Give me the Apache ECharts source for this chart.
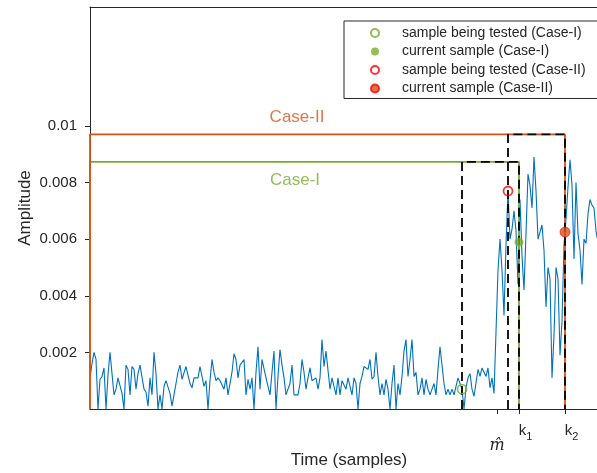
<!DOCTYPE html>
<html>
<head>
<meta charset="utf-8">
<script src="https://cdn.jsdelivr.net/npm/echarts@6/dist/echarts.min.js"></script>
<style>
  html, body { margin: 0; padding: 0; background: #fff; }
  #chart { width: 597px; height: 473px; }
</style>
</head>
<body>
<div id="chart"></div>
<script>
// received signal, one value per sample
const amplitude = [
  0.0011, 0.0016, 0.002, 0.00175, 0, 0.00105, 0.00115, 0.00145, 0, 0.0012,
  0.002, 0.002, 0.0005, 0.0007, 0.0011, 0.00105, 0.00055, 0, 0.00155, 0.0014,
  0.0005, 0.0015, 0.0014, 0.0007, 0.00125, 0.00155, 0.0015, 0.0007, 0.0006, 0.0001,
  0.0011, 0.0005, 0.002, 0.00125, 0, 0.0005, 0, 0.0008, 0.001, 0.00105,
  0.00055, 0.0001, 0.0005, 0.0009, 0.0013, 0.00155, 0.00105, 0.0011, 0.0015, 0.0015,
  0.0009, 0.00075, 0.0011, 0.00105, 0.0011, 0.0015, 0.0015, 0.0008, 0.001, 0,
  0.001, 0.00175, 0.0013, 0.001,
  0.0011, 0.001, 0.00105, 0.0007, 0.0011, 0.0005, 0.0005, 0.0013, 0.00195, 0.00175,
  0.0011, 0.00155, 0.0016, 0.00175, 0.0005, 0.00105, 0.0007, 0.0011, 0, 0.0013,
  0.0022, 0.0007, 0.00175, 0.00175, 0.0011, 0.0011, 0.0005, 0.0013, 0.00205, 0,
  0.00115, 0.0021, 0.00155, 0.0011, 0.0005, 0.0005, 0.0009, 0.00155, 0.0005, 0.0005,
  0.0005, 0.0009, 0.00175, 0.0013, 0.0007, 0.0011, 0.00145, 0.001, 0.001, 0.0011,
  0.0007, 0.0011, 0.00245, 0.0015, 0.00205, 0.002, 0.0007, 0.0011, 0.00105, 0.0005,
  0.0011, 0.0005, 0.001, 0.001,
  0.0007, 0.0011, 0.0008, 0.0005, 0.0011, 0.0009, 0, 0.0009, 0.00115, 0.0015,
  0.00155, 0.0014, 0.00175, 0.00105, 0.00115, 0.002, 0.00115, 0.0005, 0.0009, 0.0005,
  0.00105, 0.0007, 0, 0.0009, 0.00155, 0, 0.0009, 0.0005, 0.00115, 0.00205,
  0.00245, 0.00115, 0.00175, 0.00245, 0.00115, 0.0013, 0.0005, 0.0007, 0.0011, 0.0005,
  0.00105, 0.0007, 0.0005, 0.0005, 0.0009, 0.0005, 0.0014, 0.0022, 0.00155, 0.0009,
  0.0005, 0.0007, 0.0005, 0.0007, 0.0005, 0.0008, 0.0011, 0.00105, 0.0007, 0,
  0.00075, 0.0011, 0.00125,
  0.0007, 0.00045, 0.00045, 0.0014, 0.00115, 0.00145, 0.0014, 0.00115, 0.00145, 0.00075,
  0.0011, 0.00055, 0.0005, 0.0049, 0.006, 0.0049, 0.0033, 0.0058, 0.0077, 0.006,
  0.00635, 0.007, 0.0063, 0.0044, 0.0074, 0.0054, 0.0042, 0.0062, 0.0083, 0.0079,
  0.0071, 0.0089, 0.0077, 0.006, 0.006, 0.0065, 0.0056, 0.0036, 0.005, 0.0046,
  0.0011, 0.0026, 0.005, 0.0046, 0.0019, 0.0031, 0.0058, 0.0067, 0.00785, 0.0088,
  0.0079, 0.0053, 0.008, 0.0062, 0.0056, 0.0044, 0.006, 0.00585, 0.0069, 0.0074,
  0.0072, 0.0071, 0.0063, 0.0059
];

// thresholds and window edges: [Case-I, Case-II]
const levels = [0.00873, 0.0097];
const windowStart = [186, 209];
const kPos = [214.5, 237.5];
const mHatPos = 203.5;

// marker points [sample, amplitude]
const testedI = [186, 0.0007];
const currentI = [214.5, 0.0059];
const testedII = [209, 0.0077];
const currentII = [237.5, 0.00625];

const legendNames = [
  'sample being tested (Case-I)',
  'current sample (Case-I)',
  'sample being tested (Case-II)',
  'current sample (Case-II)'
];

const caseNames = ['Case-I', 'Case-II'];
const caseLabelPos = [[102.5, 0.00809], [103.5, 0.01032]];

const yTicks = [0.002, 0.004, 0.006, 0.008, 0.01];
const xTicks = [mHatPos, kPos[0], kPos[1]];
const xTickText = ['{m|m\u0302}', '{k|k}{s|1}', '{k|k}{s|2}'];

const GREEN = '#77AC30';
const ORANGE = '#D95319';
const BLUE = '#0072BD';
const TXT = '#262626';
const FONT = '"Liberation Sans", Arial, Helvetica, sans-serif';

const chart = echarts.init(document.getElementById('chart'));

function rect(x0, x1, level) {
  return [[x0, 0], [x0, level], [x1, level], [x1, 0]];
}

const option = {
  animation: false,
  textStyle: { fontFamily: FONT },
  grid: { left: 90, right: -11, top: 7, bottom: 64, outerBoundsMode: 'none', containLabel: false },
  xAxis: [
    {
      type: 'value',
      min: 0,
      max: 259,
      axisLine: { show: true, onZero: false, lineStyle: { color: TXT, width: 1 } },
      axisTick: { show: true, inside: false, length: 5, customValues: xTicks, lineStyle: { color: TXT } },
      axisLabel: {
        customValues: xTicks,
        margin: 14,
        formatter: v => xTickText[xTicks.indexOf(v)] || '',
        rich: {
          m: { fontFamily: '"DejaVu Serif", serif', fontStyle: 'italic', fontSize: 16, color: TXT, verticalAlign: 'top', padding: [15, 0, 0, 0] },
          k: { fontFamily: FONT, fontSize: 15, color: TXT, verticalAlign: 'top', padding: [0, 0, 0, 13] },
          s: { fontFamily: FONT, fontSize: 11, color: TXT, verticalAlign: 'top', padding: [8, 0, 0, 0] }
        }
      },
      splitLine: { show: false },
      name: 'Time (samples)',
      nameLocation: 'middle',
      nameGap: 43,
      nameMoveOverlap: false,
      nameTextStyle: { fontSize: 17, color: TXT, fontFamily: FONT }
    },
    {
      type: 'value',
      position: 'top',
      min: 0,
      max: 259,
      axisLine: { show: true, onZero: false, lineStyle: { color: TXT, width: 1 } },
      axisTick: { show: false },
      axisLabel: { show: false },
      splitLine: { show: false }
    }
  ],
  yAxis: {
    type: 'value',
    min: 0,
    max: 0.0142,
    axisLine: { show: true, onZero: false, lineStyle: { color: TXT, width: 1 } },
    axisTick: { show: true, inside: false, length: 5, customValues: yTicks, lineStyle: { color: TXT } },
    axisLabel: {
      customValues: yTicks,
      margin: 13,
      fontSize: 15,
      color: TXT,
      fontFamily: FONT,
      formatter: v => String(v)
    },
    splitLine: { show: false },
    name: 'Amplitude',
    nameLocation: 'middle',
    nameGap: 56,
    nameMoveOverlap: false,
    nameTextStyle: { fontSize: 17, color: TXT, fontFamily: FONT }
  },
  legend: {
    data: legendNames,
    orient: 'vertical',
    left: 344,
    top: 21,
    padding: [5, 12, 3, 26],
    itemWidth: 44,
    itemHeight: 8,
    itemGap: 4.5,
    selectedMode: false,
    backgroundColor: '#fff',
    borderColor: TXT,
    borderWidth: 1,
    textStyle: { fontSize: 14, color: TXT, fontFamily: FONT, lineHeight: 14 }
  },
  series: [
    {
      name: 'signal',
      type: 'line',
      data: amplitude.map((v, i) => [i, v]),
      showSymbol: false,
      symbol: 'none',
      lineStyle: { color: BLUE, width: 1.1 },
      z: 2
    },
    {
      name: 'rectI',
      type: 'line',
      data: rect(0, kPos[0], levels[0]),
      symbol: 'none',
      lineStyle: { color: GREEN, width: 1.8 },
      z: 3
    },
    {
      name: 'rectII',
      type: 'line',
      data: rect(0, kPos[1], levels[1]),
      symbol: 'none',
      lineStyle: { color: ORANGE, width: 1.8 },
      z: 3
    },
    {
      name: 'winI',
      type: 'line',
      data: rect(windowStart[0], kPos[0], levels[0]),
      symbol: 'none',
      lineStyle: { color: '#000', width: 1.8, type: [9, 5] },
      z: 4
    },
    {
      name: 'winII',
      type: 'line',
      data: rect(windowStart[1], kPos[1], levels[1]),
      symbol: 'none',
      lineStyle: { color: '#000', width: 1.8, type: [9, 5] },
      z: 4
    },
    {
      name: legendNames[0],
      type: 'scatter',
      data: [testedI],
      symbol: 'circle',
      symbolSize: 9,
      itemStyle: { color: 'rgba(255,255,255,0)', borderColor: GREEN, borderWidth: 1.8 },
      z: 5
    },
    {
      name: legendNames[1],
      type: 'scatter',
      data: [currentI],
      symbol: 'circle',
      symbolSize: 9,
      itemStyle: { color: GREEN, borderColor: GREEN, borderWidth: 0 },
      z: 5
    },
    {
      name: legendNames[2],
      type: 'scatter',
      data: [testedII],
      symbol: 'circle',
      symbolSize: 9,
      itemStyle: { color: 'rgba(255,255,255,0)', borderColor: '#FF0000', borderWidth: 1.8 },
      z: 5
    },
    {
      name: legendNames[3],
      type: 'scatter',
      data: [currentII],
      symbol: 'circle',
      symbolSize: 10,
      itemStyle: { color: ORANGE, borderColor: '#FF0000', borderWidth: 0.8 },
      z: 5
    },
    {
      name: 'caseLabels',
      type: 'scatter',
      symbolSize: 1,
      silent: true,
      itemStyle: { color: 'rgba(0,0,0,0)' },
      data: caseLabelPos.map((p, i) => ({
        value: p,
        label: {
          show: true,
          position: 'inside',
          formatter: caseNames[i],
          fontSize: 17,
          fontFamily: FONT,
          color: i === 0 ? GREEN : ORANGE
        }
      })),
      z: 6
    }
  ]
};

chart.setOption(option);
</script>
</body>
</html>
